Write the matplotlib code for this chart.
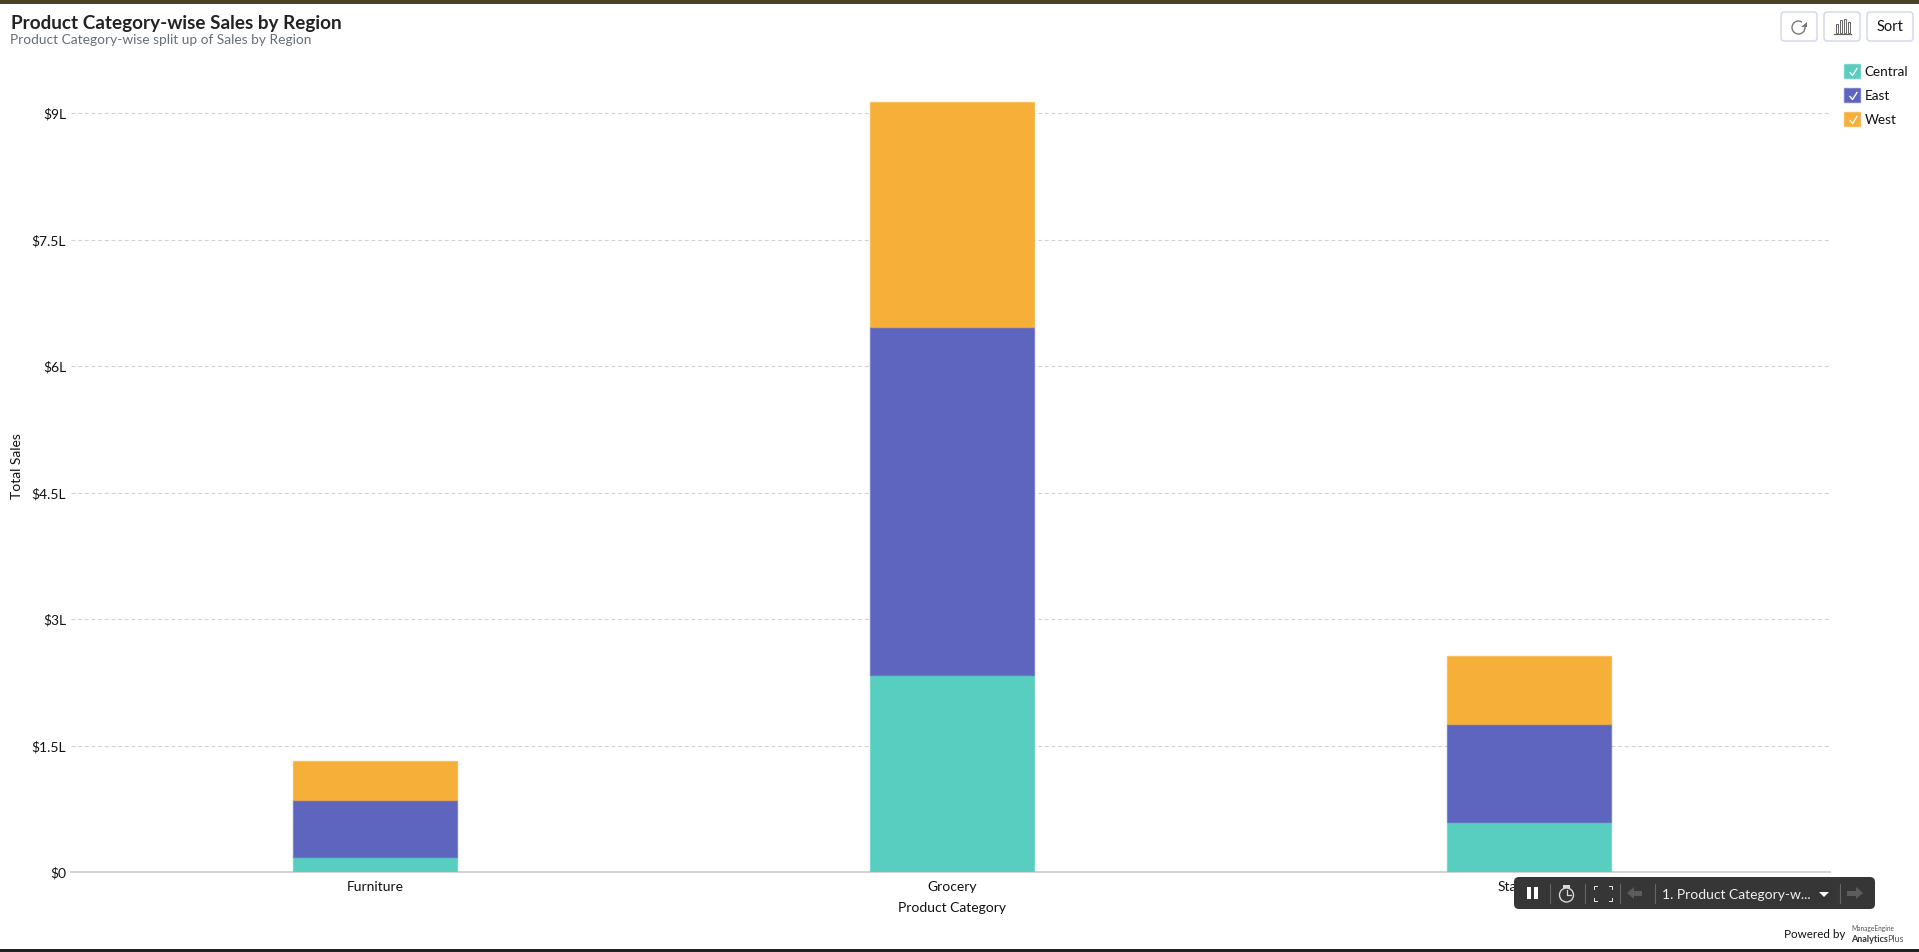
import matplotlib
matplotlib.use("Agg")
import matplotlib.pyplot as plt
from matplotlib.patches import FancyBboxPatch, Rectangle, Circle, Polygon
from matplotlib.colors import to_rgba
from matplotlib.ticker import FuncFormatter

categories = ["Furniture", "Grocery", "Stationery"]
series_names = ["Central", "East", "West"]
central = [0.18, 2.336, 0.596]
east = [0.68, 4.134, 1.166]
west = [0.46, 2.66, 0.803]
tick_values = [0, 1.5, 3, 4.5, 6, 7.5, 9]
tick_labels = ["$0", "$1.5L", "$3L", "$4.5L", "$6L", "$7.5L", "$9L"]
colors = ["#57CEC0", "#5E65BF", "#F6AF38"]

plt.rcParams["font.family"] = ["Lato", "DejaVu Sans"]
W, H = 1919, 952
fig = plt.figure(figsize=(W / 100, H / 100), dpi=100, facecolor="white")

# main plot: pixel box x 71..1830, y 60..872.3
L, R, T, B = 71, 1830, 60, 872.3
ax = fig.add_axes([L / W, 1 - B / H, (R - L) / W, (B - T) / H])
px_per_unit = 84.33
ax.set_ylim(0, (B - T) / px_per_unit)
spacing = 577
ax.set_xlim((L - 375) / spacing, (R - 375) / spacing)

bottom = [0, 0, 0]
for vals, c, name in zip([central, east, west], colors, series_names):
    ax.bar(range(3), vals, bottom=bottom, width=0.285, color=c,
           edgecolor=to_rgba(c, 0.6), linewidth=1, label=name, zorder=3)
    bottom = [b + v for b, v in zip(bottom, vals)]

ax.set_yticks(tick_values)
ax.yaxis.set_major_formatter(FuncFormatter(lambda v, p: tick_labels[tick_values.index(v)] if v in tick_values else ""))
ax.set_xticks(range(3), categories)
ax.tick_params(axis="both", length=0, labelsize=10, labelcolor="#111111")
ax.tick_params(axis="y", pad=3.5)
ax.tick_params(axis="x", pad=6)
ax.grid(axis="y", color="#d2d2d2", linestyle=(0, (3.5, 2.5)), linewidth=0.8, zorder=0)
ax.set_axisbelow(True)
for s in ["top", "right", "left"]:
    ax.spines[s].set_visible(False)
ax.spines["bottom"].set_color("#cfcfcf")
ax.spines["bottom"].set_linewidth(1.3)
ax.set_xlabel("Product Category", fontsize=10, color="#111111")
ax.xaxis.set_label_coords((952 - L) / (R - L), -(901.5 - B) / (B - T), transform=ax.transAxes)
ax.set_ylabel("Total Sales", fontsize=10, color="#111111")
ax.yaxis.set_label_coords((23 - L) / (R - L), 0.5 + (872.3 - 466 - (B - T) / 2) / (B - T), transform=ax.transAxes)

leg = ax.legend(loc="upper left", bbox_to_anchor=(1841.5 / W, 1 - 61.5 / H), bbox_transform=fig.transFigure,
                frameon=False, fontsize=10.5, handlelength=1.1, handleheight=1.1, handletextpad=0.3,
                labelspacing=0.68, borderpad=0.2, borderaxespad=0)
for t in leg.get_texts():
    t.set_color("#111111")
    t.set_fontsize(9.7)

# overlay in pixel coordinates for the page chrome
ov = fig.add_axes([0, 0, 1, 1], zorder=10)
ov.set_xlim(0, W)
ov.set_ylim(H, 0)
ov.axis("off")
ov.patch.set_alpha(0)

ov.add_patch(Rectangle((0, 0), W, 3.5, color="#4A4226", lw=0))
ov.add_patch(Rectangle((0, 948.7), W, 4, color="#222222", lw=0))
ov.text(11, 24, "Product Category-wise Sales by Region", fontsize=13.6, fontweight="bold",
        color="#222222", va="center", ha="left")
ov.text(10, 40, "Product Category-wise split up of Sales by Region", fontsize=9.9, color="#666e78",
        va="center", ha="left")

# top-right buttons
for x0, x1 in [(1781, 1817), (1824, 1860), (1867, 1913)]:
    ov.add_patch(FancyBboxPatch((x0, 12), x1 - x0, 29, boxstyle="round,pad=0,rounding_size=3",
                                fc="white", ec="#d0d6e8", lw=1))
ov.text(1890, 27, "Sort", fontsize=10.5, color="#111111", ha="center", va="center")
ov.add_patch(Circle((1798.5, 27.5), 6.5, fc="none", ec="#777777", lw=1))
ov.add_patch(Rectangle((1802, 20), 6, 5, fc="white", ec="none"))
ov.add_patch(Polygon([(1801, 27), (1807, 27), (1807, 22)], fc="#777777", ec="none"))
for x, h in [(1837, 9), (1841, 13), (1845, 14), (1849, 11)]:
    ov.add_patch(Rectangle((x - 1.2, 33 - h), 2.4, h, fc="none", ec="#666666", lw=0.7))
ov.plot([1834, 1850.5], [33.5, 33.5], color="#666666", lw=0.9)

# legend check marks
for y in [72, 96, 120]:
    ov.plot([1850, 1852.5, 1857], [y + 0.5, y + 3.5, y - 3.5], color="white", lw=1)

# slideshow toolbar
ov.add_patch(FancyBboxPatch((1514, 877), 361, 32, boxstyle="round,pad=0,rounding_size=5",
                            fc="#363636", ec="none"))
ov.add_patch(Rectangle((1527, 887), 4, 12, fc="white", lw=0))
ov.add_patch(Rectangle((1534, 887), 4, 12, fc="white", lw=0))
for x in [1549.5, 1584.5, 1619.5, 1654.5, 1839.5]:
    ov.plot([x, x], [884, 903], color="#666666", lw=0.8)
ov.add_patch(Circle((1566.5, 895), 7, fc="none", ec="#d8d8d8", lw=1))
ov.plot([1566.5, 1566.5, 1571], [890, 895, 895], color="#d8d8d8", lw=0.9)
ov.add_patch(Rectangle((1563, 885), 7, 2.5, fc="#d8d8d8", lw=0))
for xs, ys in [((1594, 1594, 1597), (889, 886, 886)), ((1612, 1612, 1609), (889, 886, 886)),
               ((1594, 1594, 1597), (898, 900.5, 900.5)), ((1612, 1612, 1609), (898, 900.5, 900.5))]:
    ov.plot(xs, ys, color="#e8e8e8", lw=0.7)
ov.add_patch(Polygon([(1627, 893), (1634, 887), (1634, 891), (1642, 891), (1642, 896), (1634, 896), (1634, 899)],
                     fc="#5c5c5c", ec="none"))
ov.add_patch(Polygon([(1863, 893), (1856, 887), (1856, 891), (1847, 891), (1847, 896), (1856, 896), (1856, 899)],
                     fc="#5c5c5c", ec="none"))
ov.text(1662, 895, "1. Product Category-w...", fontsize=10, color="#f0f0f0", va="center", ha="left")
ov.add_patch(Polygon([(1819, 892), (1829, 892), (1824, 897)], fc="white", ec="none"))

# footer
ov.text(1784, 935, "Powered by", fontsize=8.4, color="#111111", va="center", ha="left")
ov.text(1851, 929, "ManageEngine", fontsize=4.8, color="#555555", va="center", ha="left")
ov.text(1851, 939, "Analytics", fontsize=6.5, fontweight="bold", color="#333333", va="center", ha="left")
ov.text(1887, 939, "Plus", fontsize=6.5, color="#555555", va="center", ha="left")

fig.savefig("out.png", dpi=100)
